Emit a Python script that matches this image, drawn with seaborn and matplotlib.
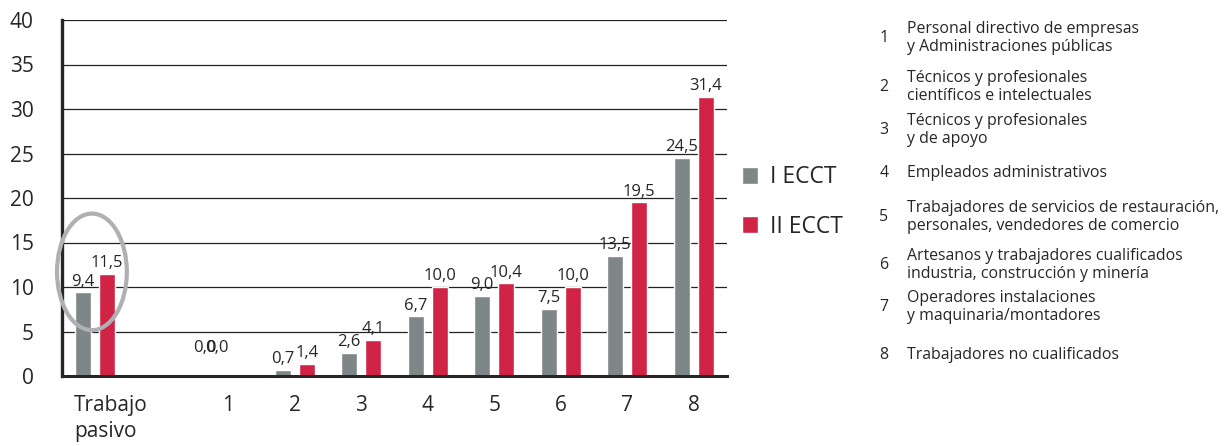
import numpy as np
import pandas as pd
import matplotlib.pyplot as plt
import matplotlib.transforms as mtransforms
from matplotlib.patches import Ellipse
import seaborn as sns

# datos
categorias = ["Trabajo\npasivo", "1", "2", "3", "4", "5", "6", "7", "8"]
orden = ["Trabajo\npasivo", "", "1", "2", "3", "4", "5", "6", "7", "8"]
i_ecct = [9.4, 0.0, 0.7, 2.6, 6.7, 9.0, 7.5, 13.5, 24.5]
ii_ecct = [11.5, 0.0, 1.4, 4.1, 10.0, 10.4, 10.0, 19.5, 31.4]
encuestas = ["I ECCT", "II ECCT"]
ocupaciones = [
    ("1", "Personal directivo de empresas\ny Administraciones públicas"),
    ("2", "Técnicos y profesionales\ncientíficos e intelectuales"),
    ("3", "Técnicos y profesionales\ny de apoyo"),
    ("4", "Empleados administrativos"),
    ("5", "Trabajadores de servicios de restauración,\npersonales, vendedores de comercio"),
    ("6", "Artesanos y trabajadores cualificados\nindustria, construcción y minería"),
    ("7", "Operadores instalaciones\ny maquinaria/montadores"),
    ("8", "Trabajadores no cualificados"),
]
ocup_y = [38, 87, 130, 173, 217, 265, 307, 355]

df = pd.DataFrame({
    "categoria": categorias * 2,
    "valor": i_ecct + ii_ecct,
    "encuesta": [encuestas[0]] * len(categorias) + [encuestas[1]] * len(categorias),
})

sns.set_style("white")
plt.rcParams["font.family"] = ["Open Sans", "DejaVu Sans"]

fig = plt.figure(figsize=(12.3, 4.46), dpi=100)
ax = fig.add_axes([62 / 1230, 70 / 446, 665 / 1230, 356 / 446])

gris = "#7f8687"
rojo = "#d02345"
sns.barplot(data=df, x="categoria", y="valor", hue="encuesta", order=orden,
            hue_order=encuestas, palette=[gris, rojo], width=0.72, gap=0.33,
            saturation=1, ax=ax, zorder=3)

ax.set_ylim(0, 40)
ax.set_xlim(-0.5, 9.5)
ax.set_yticks(np.arange(0, 41, 5))
ax.yaxis.grid(True, color="#222222", lw=0.9, zorder=0)
ax.set_axisbelow(True)
ax.set_xlabel("")
ax.set_ylabel("")
sns.despine(ax=ax, top=True, right=True)
ax.spines["left"].set_linewidth(2.4)
ax.spines["bottom"].set_linewidth(2.2)
ax.spines["left"].set_zorder(4)
ax.spines["bottom"].set_zorder(4)

ax.tick_params(axis="y", length=9.4, width=0.9, color="#222222", pad=11, labelsize=15)
ax.tick_params(axis="x", which="major", length=0, pad=14, labelsize=15)
ax.set_xticks(np.arange(-0.5, 10, 1), minor=True)
ax.tick_params(axis="x", which="minor", length=6, width=1.2, color="black")
for lab in ax.get_xticklabels():
    lab.set_linespacing(1.3)
    if lab.get_text().startswith("Trabajo"):
        lab.set_multialignment("left")
        lab.set_transform(lab.get_transform() +
                          mtransforms.ScaledTranslation(16 / 100, 0, fig.dpi_scale_trans))

# etiquetas de valor
for k, cont in enumerate(ax.containers):
    for p in cont:
        h = p.get_height()
        if np.isnan(h):
            continue
        x = p.get_x() + p.get_width() / 2
        txt = f"{h:.1f}".replace(".", ",")
        if h == 0:
            dx = -8 if k == 0 else -16.5
            ax.annotate(txt, (x, 2.3), xytext=(dx, 0), textcoords="offset points",
                        ha="center", va="bottom", fontsize=12, zorder=5)
        else:
            ax.annotate(txt, (x, h), xytext=(0, 2), textcoords="offset points",
                        ha="center", va="bottom", fontsize=12, zorder=5)

# elipse resaltando trabajo pasivo
ax.add_patch(Ellipse((-0.05, 11.7), 1.05, 13.1, fill=False, ec="#aeb0b3",
                     lw=3, clip_on=False, zorder=6))

# leyenda
handles, labels = ax.get_legend_handles_labels()
ax.legend(handles, labels, loc="center left", bbox_to_anchor=(721 / 1230, 1 - 202 / 446),
          bbox_transform=fig.transFigure, frameon=False, fontsize=16.5,
          handlelength=0.72, handleheight=0.72, handletextpad=0.5, labelspacing=1.1)

# lista de ocupaciones
for (num, texto), yy in zip(ocupaciones, ocup_y):
    fig.text(884 / 1230, 1 - yy / 446, num, ha="center", va="center", fontsize=11.4)
    fig.text(907 / 1230, 1 - yy / 446, texto, ha="left", va="center", fontsize=11.4,
             linespacing=1.15)

fig.savefig("out.png", dpi=100)
